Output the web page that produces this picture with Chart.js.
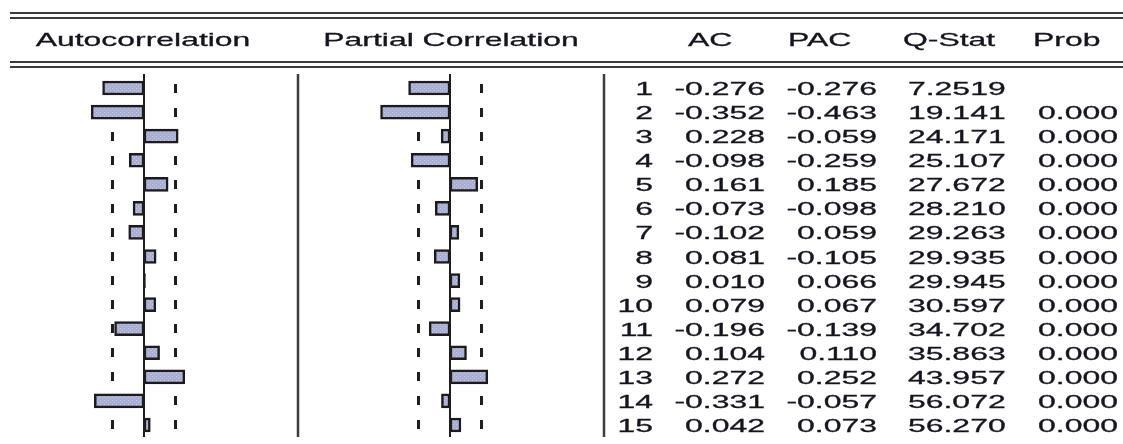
<!DOCTYPE html>
<html>
<head>
<meta charset="utf-8">
<script src="https://cdn.jsdelivr.net/npm/chart.js@4.4.0/dist/chart.umd.min.js"></script>
<style>
  html, body { margin: 0; padding: 0; background: #ffffff; }
  #wrap { width: 1123px; height: 444px; position: relative; }
</style>
</head>
<body>
<div id="wrap"><canvas id="c" width="1123" height="444"></canvas></div>
<script>
// ---- data ----
const lags = [1, 2, 3, 4, 5, 6, 7, 8, 9, 10, 11, 12, 13, 14, 15];
const acValues = [-0.276, -0.352, 0.228, -0.098, 0.161, -0.073, -0.102, 0.081, 0.010, 0.079, -0.196, 0.104, 0.272, -0.331, 0.042];
const pacValues = [-0.276, -0.463, -0.059, -0.259, 0.185, -0.098, 0.059, -0.105, 0.066, 0.067, -0.139, 0.110, 0.252, -0.057, 0.073];
const qStat = [7.2519, 19.141, 24.171, 25.107, 27.672, 28.210, 29.263, 29.935, 29.945, 30.597, 34.702, 35.863, 43.957, 56.072, 56.270];
const probValues = [null, 0.000, 0.000, 0.000, 0.000, 0.000, 0.000, 0.000, 0.000, 0.000, 0.000, 0.000, 0.000, 0.000, 0.000];
const headerLabels = ['Autocorrelation', 'Partial Correlation', 'AC', 'PAC', 'Q-Stat', 'Prob'];
const confBound = 0.21;

// ---- styles ----
const FONT = '19px "Liberation Sans", Arial, sans-serif';
const SX = 1.68;
const TEXT_COLOR = '#15151f';
const LINE_COLOR = '#3c3c3c';

function makePattern() {
  const p = document.createElement('canvas');
  p.width = 4; p.height = 4;
  const g = p.getContext('2d');
  g.fillStyle = '#a9afd3';
  g.fillRect(0, 0, 4, 4);
  g.fillStyle = '#c6cae6';
  g.fillRect(0, 0, 1, 1);
  g.fillRect(2, 2, 1, 1);
  return g.createPattern(p, 'repeat');
}
const barFill = makePattern();

function stretchedText(ctx, str, x, y, align) {
  ctx.save();
  ctx.translate(x, y);
  ctx.scale(SX, 1);
  ctx.textAlign = align;
  ctx.textBaseline = 'alphabetic';
  ctx.fillStyle = TEXT_COLOR;
  ctx.strokeStyle = TEXT_COLOR;
  ctx.lineWidth = 0.3;
  ctx.font = FONT;
  ctx.fillText(str, 0, 0);
  ctx.strokeText(str, 0, 0);
  ctx.restore();
}

const correlogramPlugin = {
  id: 'correlogram',
  beforeDatasetsDraw(chart) {
    const ctx = chart.ctx;
    const y = chart.scales.y;
    ctx.save();
    // confidence bound dashes (behind the bars)
    ctx.fillStyle = '#1e1e1e';
    ['xa', 'xb'].forEach(id => {
      const sc = chart.scales[id];
      [-confBound, confBound].forEach(b => {
        const bx = sc.getPixelForValue(b);
        lags.forEach((l, i) => {
          const cy = y.getPixelForValue(i);
          ctx.fillRect(Math.round(bx - 1.5), Math.round(cy - 4.5), 3, 9);
        });
      });
    });
    ctx.restore();
  },
  afterDatasetsDraw(chart) {
    const ctx = chart.ctx;
    const area = chart.chartArea;
    ctx.save();
    // zero lines
    ctx.strokeStyle = '#1e1e1e';
    ctx.lineWidth = 2;
    ['xa', 'xb'].forEach(id => {
      const x0 = Math.round(chart.scales[id].getPixelForValue(0));
      ctx.beginPath();
      ctx.moveTo(x0, area.top - 2);
      ctx.lineTo(x0, area.bottom);
      ctx.stroke();
    });
    // panel separators
    ctx.strokeStyle = LINE_COLOR;
    ctx.lineWidth = 2.5;
    [chart.scales.xa.right, chart.scales.xb.right].forEach(px => {
      ctx.beginPath();
      ctx.moveTo(px, area.top - 2);
      ctx.lineTo(px, area.bottom);
      ctx.stroke();
    });
    ctx.restore();
  },
  afterDraw(chart) {
    const ctx = chart.ctx;
    const y = chart.scales.y;
    ctx.save();
    // double rules
    ctx.strokeStyle = LINE_COLOR;
    ctx.lineWidth = 2;
    [13, 18, 62, 67].forEach(ly => {
      ctx.beginPath();
      ctx.moveTo(10, ly);
      ctx.lineTo(1123, ly);
      ctx.stroke();
    });
    // headers
    const hb = 46;
    stretchedText(ctx, headerLabels[0], 143, hb, 'center');
    stretchedText(ctx, headerLabels[1], 451, hb, 'center');
    stretchedText(ctx, headerLabels[2], 688, hb, 'left');
    stretchedText(ctx, headerLabels[3], 788, hb, 'left');
    stretchedText(ctx, headerLabels[4], 903, hb, 'left');
    stretchedText(ctx, headerLabels[5], 1033, hb, 'left');
    // table rows
    lags.forEach((l, i) => {
      const by = Math.round(y.getPixelForValue(i)) + 7;
      stretchedText(ctx, String(l), 653, by, 'right');
      stretchedText(ctx, acValues[i].toFixed(3), 765, by, 'right');
      stretchedText(ctx, pacValues[i].toFixed(3), 877, by, 'right');
      stretchedText(ctx, qStat[i].toPrecision(5), 908, by, 'left');
      if (probValues[i] !== null) {
        stretchedText(ctx, probValues[i].toFixed(3), 1118, by, 'right');
      }
    });
    ctx.restore();
  }
};

const barStyle = {
  grouped: false,
  barThickness: 14,
  backgroundColor: barFill,
  borderColor: '#1b1b1b',
  borderWidth: 2.5,
  borderSkipped: false
};

new Chart(document.getElementById('c'), {
  type: 'bar',
  data: {
    labels: lags,
    datasets: [
      Object.assign({ label: 'AC', data: acValues, xAxisID: 'xa', yAxisID: 'y' }, barStyle),
      Object.assign({ label: 'PAC', data: pacValues, xAxisID: 'xb', yAxisID: 'y' }, barStyle)
    ]
  },
  options: {
    indexAxis: 'y',
    responsive: false,
    animation: false,
    layout: { padding: { top: 76, bottom: 7, left: 0, right: 0 } },
    plugins: { legend: { display: false }, tooltip: { enabled: false } },
    scales: {
      y: { type: 'category', display: false, offset: true },
      xa: { type: 'linear', axis: 'x', position: 'bottom', stack: 'panels', stackWeight: 298, min: -0.96, max: 1.02667, display: false },
      xb: { type: 'linear', axis: 'x', position: 'bottom', stack: 'panels', stackWeight: 306, min: -1.01333, max: 1.02667, display: false },
      xc: { type: 'linear', axis: 'x', position: 'bottom', stack: 'panels', stackWeight: 519, min: 0, max: 1, display: false }
    }
  },
  plugins: [correlogramPlugin]
});
</script>
</body>
</html>
